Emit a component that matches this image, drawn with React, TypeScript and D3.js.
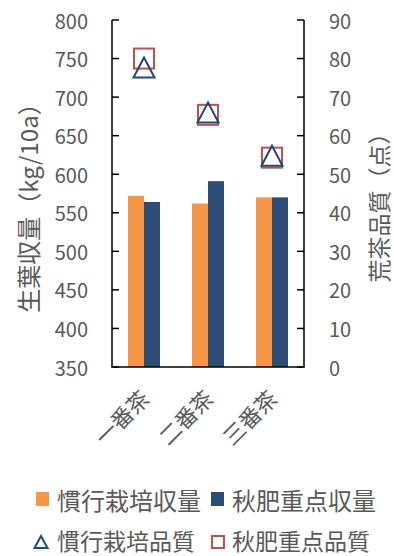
import React from "react";
import * as d3 from "d3";

const categories = ["一番茶", "二番茶", "三番茶"];
const seriesNames = ["慣行栽培収量", "秋肥重点収量"];
const yieldConventional = [572, 562, 570];
const yieldAutumn = [564, 591, 570];
const qualityConventional = [77.7, 66, 54.8];
const qualityAutumn = [80, 65.4, 54.3];
const leftTicks = [350, 400, 450, 500, 550, 600, 650, 700, 750, 800];
const rightTicks = [0, 10, 20, 30, 40, 50, 60, 70, 80, 90];

const W = 394;
const H = 556;
const FONT = "'Noto Sans CJK JP', 'Noto Sans', sans-serif";
const ORANGE = "#F79646";
const NAVY = "#2C4D75";
const TRI = "#1F497D";
const RED = "#C0504D";
const GREY = "#595959";

export default function App() {
  const left = 112, right = 304, top = 20, bottom = 367;
  const x = d3.scaleBand<string>().domain(categories).range([left, right]).padding(0);
  const xs = d3.scaleBand<string>().domain(seriesNames).range([0, x.bandwidth()]).paddingInner(0).paddingOuter(1);
  const yL = d3.scaleLinear().domain([350, 800]).range([bottom, top]);
  const yR = d3.scaleLinear().domain([0, 90]).range([bottom, top]);
  const series = [yieldConventional, yieldAutumn];
  const colors = [ORANGE, NAVY];
  const tri = (cx: number, cy: number, w: number, h: number) =>
    `M${cx},${cy - h / 2}L${cx + w / 2},${cy + h / 2}L${cx - w / 2},${cy + h / 2}Z`;

  return (
    <svg width={W} height={H} style={{ position: "absolute", left: 0, top: 0, fontFamily: FONT }}>
      <rect width={W} height={H} fill="#fff" />
      {categories.map((c, i) =>
        series.map((s, j) => (
          <rect
            key={c + j}
            x={(x(c) as number) + (xs(seriesNames[j]) as number)}
            y={yL(s[i])}
            width={xs.bandwidth()}
            height={bottom - yL(s[i])}
            fill={colors[j]}
          />
        ))
      )}
      <line x1={left} x2={left} y1={top} y2={bottom} stroke="#000" strokeWidth={1.5} />
      <line x1={right} x2={right} y1={top} y2={bottom} stroke="#000" strokeWidth={1.5} />
      <line x1={left - 0.75} x2={right + 0.75} y1={bottom} y2={bottom} stroke="#000" strokeWidth={1.5} />
      {leftTicks.map((t) => (
        <g key={"l" + t}>
          <line x1={left} x2={left + 7} y1={yL(t)} y2={yL(t)} stroke="#000" strokeWidth={1.5} />
          <text x={88} y={yL(t)} textAnchor="end" dominantBaseline="central" fontSize={20} fill={GREY}>{t}</text>
        </g>
      ))}
      {rightTicks.map((t) => (
        <g key={"r" + t}>
          <line x1={right - 7} x2={right} y1={yR(t)} y2={yR(t)} stroke="#000" strokeWidth={1.5} />
          <text x={329} y={yR(t)} textAnchor="start" dominantBaseline="central" fontSize={20} fill={GREY}>{t}</text>
        </g>
      ))}
      {categories.map((c, i) => {
        const cx = (x(c) as number) + x.bandwidth() / 2;
        return (
          <g key={"m" + c}>
            <rect x={cx - 10} y={yR(qualityAutumn[i]) - 10} width={20} height={20} fill="none" stroke={RED} strokeWidth={2} />
            <path d={tri(cx, yR(qualityConventional[i]), 21, 20)} fill="none" stroke={TRI} strokeWidth={2} />
          </g>
        );
      })}
      {categories.map((c) => {
        const cx = (x(c) as number) + x.bandwidth() / 2;
        const ty = 393;
        return (
          <text key={"x" + c} x={cx} y={ty} textAnchor="end" dominantBaseline="central" fontSize={22} fill={GREY}
            transform={`rotate(-45 ${cx} ${ty})`}>{c}</text>
        );
      })}
      <text x={0} y={0} transform={`translate(27,202) rotate(-90)`} textAnchor="middle" dominantBaseline="central" fontSize={24} fill={GREY}>生葉収量（kg/10a）</text>
      <text x={0} y={0} transform={`translate(378,202) rotate(-90)`} textAnchor="middle" dominantBaseline="central" fontSize={23} fill={GREY}>荒茶品質（点）</text>
      <rect x={36} y={492} width={13} height={14} fill={ORANGE} />
      <text x={57} y={499} dominantBaseline="central" fontSize={24} fill={GREY}>慣行栽培収量</text>
      <rect x={211} y={492} width={13} height={14} fill={NAVY} />
      <text x={232} y={499} dominantBaseline="central" fontSize={24} fill={GREY}>秋肥重点収量</text>
      <path d={tri(41, 542, 13, 12)} fill="none" stroke={TRI} strokeWidth={2} />
      <text x={57} y={540} dominantBaseline="central" fontSize={23} fill={GREY}>慣行栽培品質</text>
      <rect x={212} y={536} width={12} height={12} fill="none" stroke={RED} strokeWidth={2} />
      <text x={232} y={540} dominantBaseline="central" fontSize={23} fill={GREY}>秋肥重点品質</text>
    </svg>
  );
}
